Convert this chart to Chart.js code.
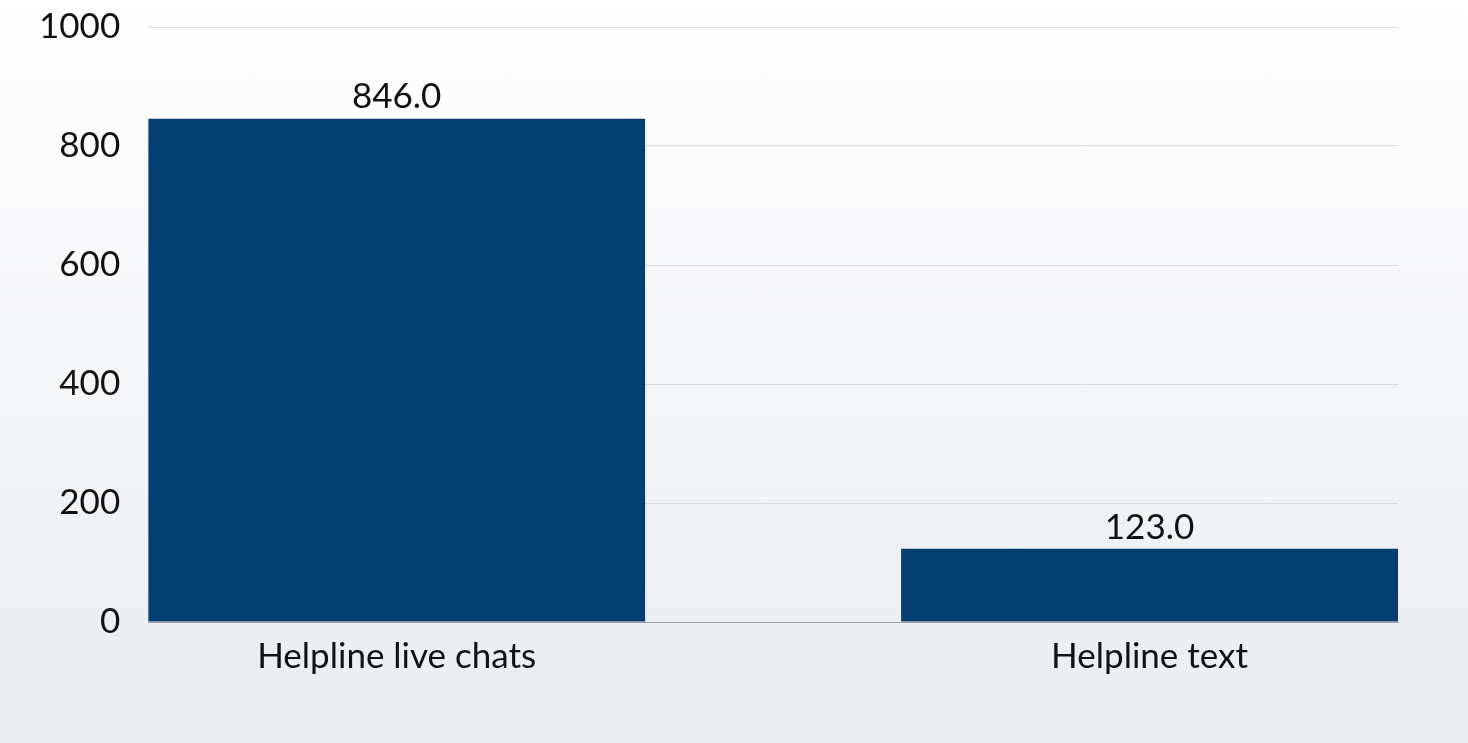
<!DOCTYPE html>
<html>
<head>
<meta charset="utf-8">
<script src="https://cdn.jsdelivr.net/npm/chart.js@4/dist/chart.umd.min.js"></script>
<style>
    html, body { margin: 0; padding: 0; }
    body {
        width: 1468px; height: 743px; overflow: hidden;
        background: linear-gradient(to bottom, #ffffff 0%, #f5f6f8 45%, #e9edf0 100%);
    }
    #wrap { position: relative; width: 1468px; height: 743px; }
</style>
</head>
<body>
<div id="wrap"><canvas id="helplineChart"></canvas></div>
<script>
const categories = ['Helpline live chats', 'Helpline text'];
const contacts = [846, 123];
const yTicks = [0, 200, 400, 600, 800, 1000];

const FONT = 'Lato, "Noto Sans", sans-serif';
const FONT_SIZE = 35;

// value labels over each bar, one decimal place
const barValueLabels = {
    id: 'barValueLabels',
    afterDatasetsDraw(chart) {
        const ctx = chart.ctx;
        const meta = chart.getDatasetMeta(0);
        ctx.save();
        ctx.font = FONT_SIZE + 'px ' + FONT;
        ctx.fillStyle = '#111111';
        ctx.textAlign = 'center';
        ctx.textBaseline = 'bottom';
        meta.data.forEach((bar, i) => {
            ctx.fillText(contacts[i].toFixed(1), bar.x, bar.y - 4);
        });
        ctx.restore();
    }
};

document.addEventListener('DOMContentLoaded', function() {
    const ctx = document.getElementById('helplineChart');
    new Chart(ctx, {
        type: 'bar',
        data: {
            datasets: [{
                data: contacts.map((v, i) => ({ x: i, y: v })),
                backgroundColor: '#053f71',
                borderWidth: 0,
                categoryPercentage: 1,
                barPercentage: 0.66
            }]
        },
        options: {
            responsive: true,
            maintainAspectRatio: false,
            animation: false,
            layout: { padding: { top: 27, right: 70, bottom: 59, left: 11 } },
            plugins: {
                legend: { display: false },
                tooltip: { enabled: false }
            },
            scales: {
                x: {
                    type: 'linear',
                    offset: false,
                    min: -0.33,
                    max: 1.33,
                    afterBuildTicks: s => { s.ticks = categories.map((_, i) => ({ value: i })); },
                    grid: { display: false, offset: false },
                    border: { display: true, color: '#9a9da1', width: 1 },
                    ticks: {
                        autoSkip: false,
                        maxRotation: 0,
                        padding: 6,
                        color: '#111111',
                        font: { family: FONT, size: FONT_SIZE },
                        callback: v => categories[v]
                    }
                },
                y: {
                    min: 0,
                    max: 1000,
                    afterBuildTicks: s => { s.ticks = yTicks.map(v => ({ value: v })); },
                    // let the layout padding alone decide the top edge
                    afterFit: s => { s.paddingTop = 0; s.paddingBottom = 0; },
                    grid: { color: '#d6d9dd', lineWidth: 1, drawTicks: false },
                    border: { display: false },
                    ticks: {
                        padding: 28,
                        color: '#111111',
                        font: { family: FONT, size: FONT_SIZE },
                        callback: v => String(v)
                    }
                }
            }
        },
        plugins: [barValueLabels]
    });
});
</script>
</body>
</html>
